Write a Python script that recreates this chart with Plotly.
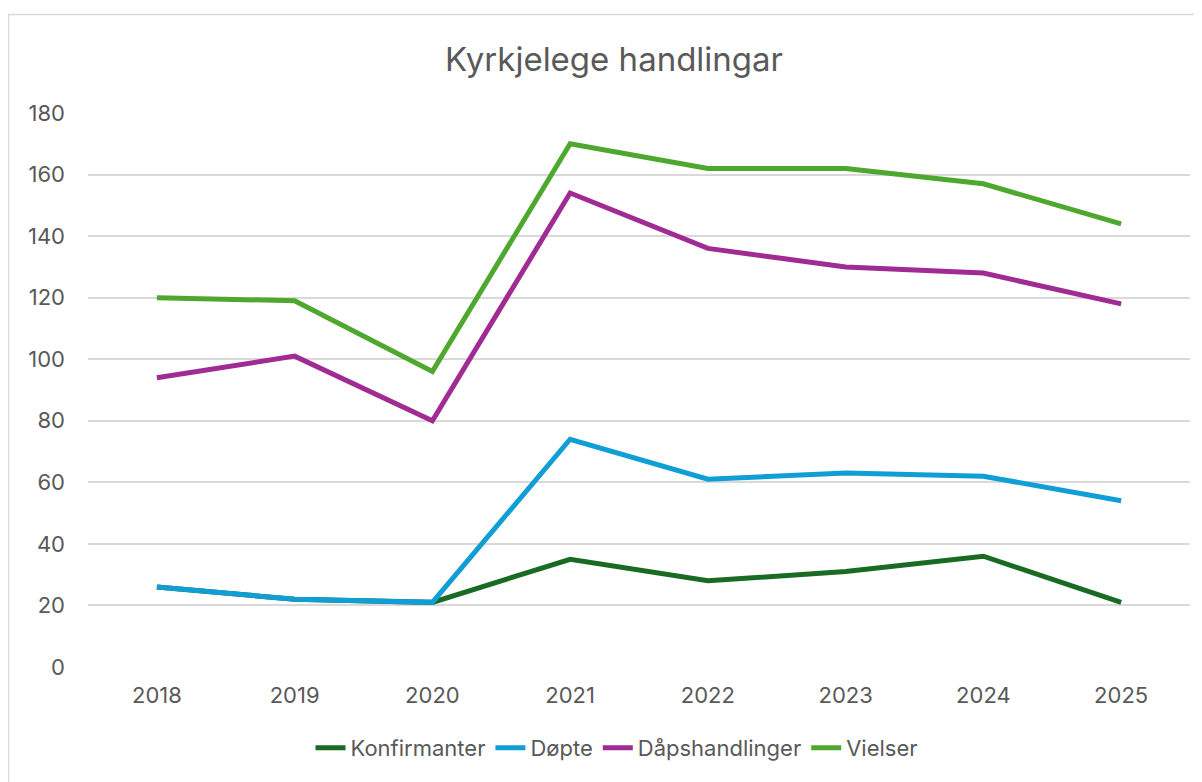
import plotly.graph_objects as go

years = ["2018", "2019", "2020", "2021", "2022", "2023", "2024", "2025"]
konfirmanter = [26, 22, 21, 35, 28, 31, 36, 21]
dopte = [26, 22, 21, 74, 61, 63, 62, 54]
dapshandlinger = [94, 101, 80, 154, 136, 130, 128, 118]
vielser = [120, 119, 96, 170, 162, 162, 157, 144]
y_ticks = [0, 20, 40, 60, 80, 100, 120, 140, 160, 180]

series = [
    ("Konfirmanter", konfirmanter, "#196B24"),
    ("Døpte", dopte, "#0F9ED5"),
    ("Dåpshandlinger", dapshandlinger, "#A02B93"),
    ("Vielser", vielser, "#4EA72E"),
]

FONT = "Inter, 'Open Sans', sans-serif"
TXT = "#595959"

fig = go.Figure()
for name, vals, col in series:
    fig.add_trace(go.Scatter(
        x=years, y=vals, name=name, mode="lines",
        line=dict(color=col, width=5),
    ))

# page has an 8px body margin, so figure coords = page coords - 8
OFF = 8
W, H = 1202, 782
L, R, T, B = 88 - OFF, 1190 - OFF, 113 - OFF, 667 - OFF
pw, ph = R - L, B - T

fig.update_layout(
    width=W, height=H,
    margin=dict(l=L, r=W - R, t=T, b=H - B, autoexpand=False),
    paper_bgcolor="white", plot_bgcolor="white",
    font=dict(family=FONT, color=TXT, size=22),
    title=dict(text="Kyrkjelege handlingar", font=dict(size=33, color=TXT, family=FONT),
               x=(614 - OFF) / W, xanchor="center", xref="container",
               y=1 - (59 - OFF) / H, yanchor="middle", yref="container"),
    showlegend=True,
    legend=dict(orientation="h", xref="container", yref="container",
                x=(617 - OFF) / W, xanchor="center", y=1 - (748 - OFF) / H, yanchor="middle",
                font=dict(size=22, color=TXT, family=FONT),
                itemwidth=30, tracegroupgap=0, bgcolor="rgba(0,0,0,0)"),
    hovermode=False,
)
fig.update_xaxes(type="category", range=[-0.5, len(years) - 0.5],
                 showgrid=False, showline=False, zeroline=False,
                 ticks="", ticklabelstandoff=13,
                 tickfont=dict(size=22, color=TXT, family=FONT))
fig.update_yaxes(range=[0, 180], tickvals=y_ticks,
                 showgrid=True, gridcolor="#D9D9D9", gridwidth=1.5,
                 showline=False, zeroline=False,
                 ticks="", ticklabelstandoff=22,
                 tickfont=dict(size=22, color=TXT, family=FONT))

# outer chart border (light grey), extending past right/bottom like the reference
fig.add_shape(type="rect", xref="paper", yref="paper",
              x0=(8.5 - OFF - L) / pw, x1=(1215 - L) / pw,
              y0=(B - 800) / ph, y1=(B - (14.5 - OFF)) / ph,
              line=dict(color="#D9D9D9", width=1.5), fillcolor="rgba(0,0,0,0)",
              layer="below")

fig.write_html("out.html")
